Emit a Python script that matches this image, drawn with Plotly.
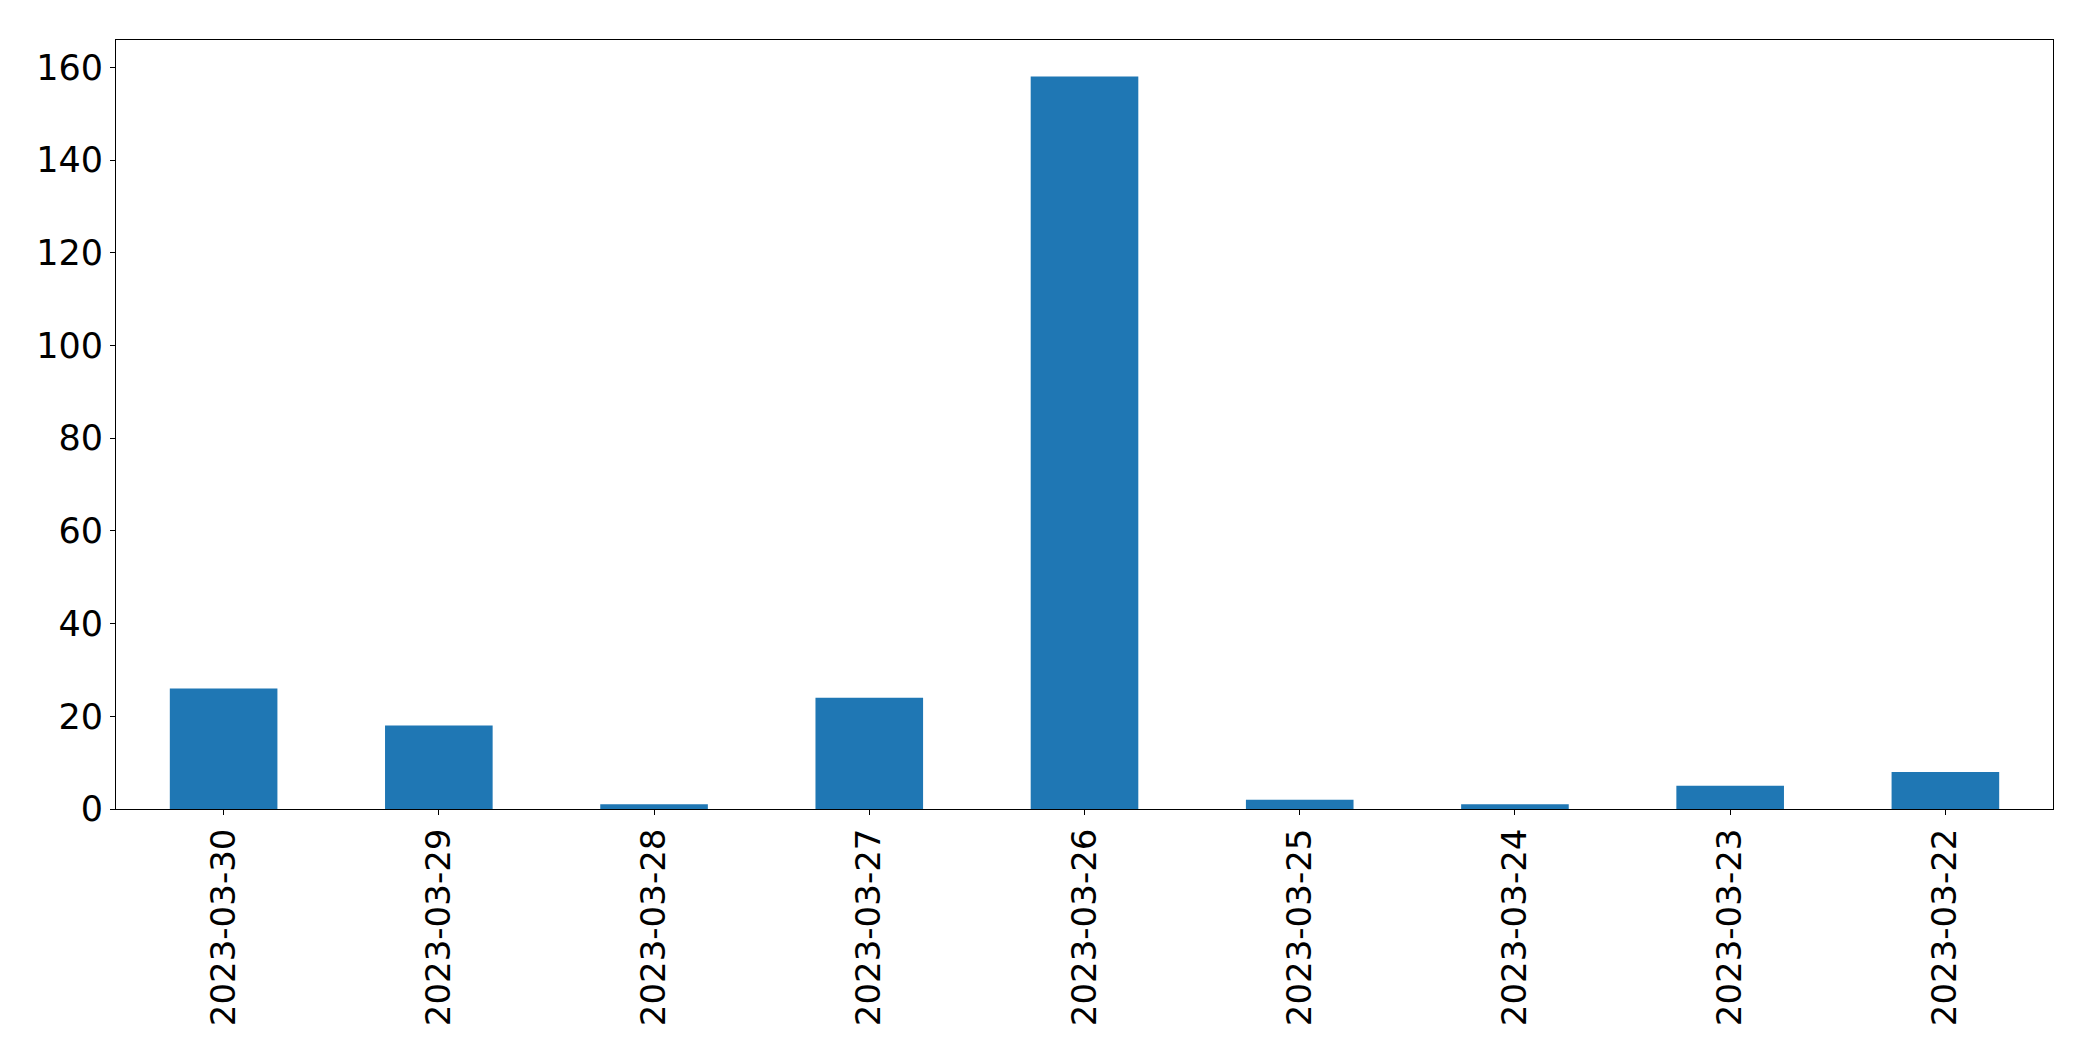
import plotly.graph_objects as go

dates = ["2023-03-30", "2023-03-29", "2023-03-28", "2023-03-27", "2023-03-26",
         "2023-03-25", "2023-03-24", "2023-03-23", "2023-03-22"]
counts = [26, 18, 1, 24, 158, 2, 1, 5, 8]
y_ticks = [0, 20, 40, 60, 80, 100, 120, 140, 160]

fig = go.Figure(go.Bar(x=dates, y=counts, marker_color="#1f77b4",
                       marker_line_width=0, width=0.5))

axis_common = dict(showline=True, mirror=True, linecolor="black", linewidth=1,
                   ticks="outside", ticklen=5, tickwidth=1, tickcolor="black",
                   showgrid=False, zeroline=False)

fig.update_layout(
    width=2093, height=1061,
    margin=dict(l=108, r=48, t=32, b=260),
    paper_bgcolor="white", plot_bgcolor="white",
    showlegend=False,
    bargap=0.5,
)
fig.update_xaxes(type="category", range=[-0.5, 8.5], tickangle=-90,
                 tickfont=dict(family="DejaVu Sans", size=34, color="black"),
                 **axis_common)
fig.update_yaxes(range=[0, 165.9], tickvals=y_ticks,
                 tickfont=dict(family="DejaVu Sans", size=35, color="black"),
                 **axis_common)

fig.write_html("out.html")
